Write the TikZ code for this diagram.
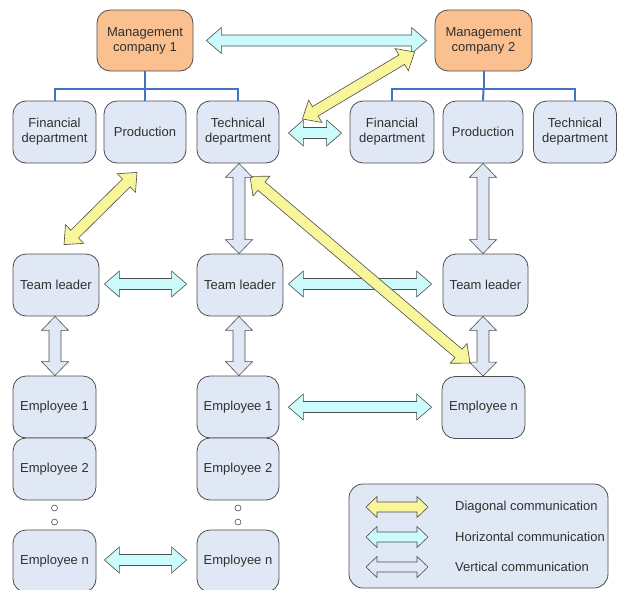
\documentclass[tikz,border=0pt]{standalone}
\usepackage{fontspec}
\setmainfont{Liberation Sans}
\usetikzlibrary{calc}
\definecolor{boxfill}{HTML}{E1E8F5}
\definecolor{mgmtfill}{HTML}{FAC08F}
\definecolor{cyanfill}{HTML}{CCFBFB}
\definecolor{yelfill}{HTML}{F9F59A}
\definecolor{edgec}{HTML}{4D4D4D}
\definecolor{treec}{HTML}{4472C4}
\definecolor{txtc}{HTML}{303030}
\begin{document}
\begin{tikzpicture}[x=1pt,y=-1pt,
  box/.style={draw=edgec, line width=0.8pt, fill=boxfill, rounded corners=13pt,
    minimum height=62pt, inner sep=2pt, align=center, text=txtc,
    font=\fontsize{13}{15}\selectfont},
  mgmt/.style={box, fill=mgmtfill, minimum height=61pt},
  tree/.style={draw=treec, line width=2pt},
  arrdims/.code n args={3}{\def\arrW{#1}\def\arrH{#2}\def\arrL{#3}},
  blk/.style={draw=edgec, line width=0.6pt, line join=miter, arrdims={5.5pt}{13pt}{15pt},
    to path={coordinate (bS) (\tikztotarget) coordinate (bE)
      (bS) -- ($(bS)!\arrL!(bE)!\arrH!90:(bE)$)
           -- ($(bS)!\arrL!(bE)!\arrW!90:(bE)$)
           -- ($(bE)!\arrL!(bS)!\arrW!-90:(bS)$)
           -- ($(bE)!\arrL!(bS)!\arrH!-90:(bS)$)
           -- (bE)
           -- ($(bE)!\arrL!(bS)!\arrH!90:(bS)$)
           -- ($(bE)!\arrL!(bS)!\arrW!90:(bS)$)
           -- ($(bS)!\arrL!(bE)!\arrW!-90:(bE)$)
           -- ($(bS)!\arrL!(bE)!\arrH!-90:(bE)$)
           -- cycle}},
  harr/.style={blk, fill=cyanfill},
  varr/.style={blk, fill=boxfill, arrdims={6pt}{13.5pt}{14pt}},
  darr/.style={blk, fill=yelfill},
  legtext/.style={anchor=west, inner sep=0pt, text=txtc, font=\fontsize{13}{15}\selectfont},
  dot/.style={circle, draw=edgec, line width=0.6pt, fill=white, inner sep=0pt, minimum size=6pt}
]
\useasboundingbox (0,0) rectangle (620,589);

% management
\node[mgmt, minimum width=96pt] (mc1) at (145,40.5) {Management\\company 1};
\node[mgmt, minimum width=97pt] (mc2) at (483.5,40.5) {Management\\company 2};

% departments
\node[box, minimum width=83pt] (fin1) at (54.5,132) {Financial\\department};
\node[box, minimum width=82pt] (prod1) at (145,132) {Production};
\node[box, minimum width=82pt] (tech1) at (238,132) {Technical\\department};
\node[box, minimum width=84pt] (fin2) at (392,132) {Financial\\department};
\node[box, minimum width=80pt] (prod2) at (483,132) {Production};
\node[box, minimum width=83pt] (tech2) at (575,132) {Technical\\department};

% team leaders
\node[box, minimum width=86pt] (tl1) at (56,285) {Team leader};
\node[box, minimum width=86pt] (tl2) at (240,285) {Team leader};
\node[box, minimum width=85pt] (tl3) at (485.5,285) {Team leader};

% employees
\node[box, minimum width=83pt] (e11) at (54.5,407) {Employee 1};
\node[box, minimum width=83pt] (e12) at (54.5,469) {Employee 2};
\node[box, minimum width=83pt] (e1n) at (54.5,561) {Employee n};
\node[box, minimum width=82pt] (e21) at (238,407) {Employee 1};
\node[box, minimum width=82pt] (e22) at (238,469) {Employee 2};
\node[box, minimum width=82pt] (e2n) at (238,561) {Employee n};
\node[box, minimum width=83pt] (e3n) at (483.5,407.5) {Employee n};

% dots
\node[dot] (d1a) at (54.5,508) {};
\node[dot] (d1b) at (54.5,522) {};
\node[dot] (d2a) at (238,508) {};
\node[dot] (d2b) at (238,522) {};

% tree lines
\draw[tree] (mc1.south) -- ($(mc1.south)+(0,18)$) coordinate (j1);
\draw[tree] (fin1.north) |- (j1) -| (tech1.north);
\draw[tree] (j1) -- (prod1.north);
\draw[tree] (mc2.south) -- ($(mc2.south)+(0,18)$) coordinate (j2);
\draw[tree] (fin2.north) |- (j2) -| (tech2.north);
\draw[tree] (j2) -- (prod2.north);

% horizontal communication
\draw[harr] ($(mc1.east)+(13,0)$) to ($(mc2.west)+(-8,0)$);
\draw[harr] ($(tech1.east)+(9,1)$) to ($(fin2.west)+(-8,1)$);
\draw[harr] ($(tl1.east)+(5,-1)$) to ($(tl2.west)+(-10,-1)$);
\draw[harr] ($(tl2.east)+(5,-1)$) to ($(tl3.west)+(-11,-1)$);
\draw[harr] ($(e21.east)+(9,0)$) to ($(e3n.west)+(-10,-0.5)$);
\draw[harr] ($(e1n.east)+(8,-1)$) to ($(e2n.west)+(-10,-1)$);

% diagonal communication
\draw[darr] ($(prod1.south)+(-8,9)$) to ($(tl1.north)+(8,-9)$);
\draw[darr] ($(tech1.east)+(23,-13)$) to ($(mc2.west)+(-20,11.5)$);
\draw[darr] ($(tech1.south)+(12,13)$) to ($(e3n.north)+(-13.5,-13)$);

% vertical communication
\draw[varr] ($(tech1.south)+(1,0)$) to ($(tech1.south |- tl2.north)+(1,0)$);
\draw[varr] ($(tl2.south)+(-1,0)$) to ($(tl2.south |- e21.north)+(-1,0)$);
\draw[varr] ($(tl1.south)+(-1,0)$) to ($(tl1.south |- e11.north)+(-1,0)$);
\draw[varr] (prod2.south) to (prod2.south |- tl3.north);
\draw[varr] ($(tl3.south)+(-2.5,0)$) to ($(tl3.south |- e3n.north)+(-2.5,0)$);

% legend
\node[draw=edgec, line width=0.8pt, fill=boxfill, rounded corners=14pt,
  minimum width=259pt, minimum height=104pt, inner sep=0pt] (leg) at (478.5,536) {};
\coordinate (ly1) at (366,507); \coordinate (ly2) at (428,507);
\coordinate (lc1) at (366,537); \coordinate (lc2) at (428,537);
\coordinate (lv1) at (366,567); \coordinate (lv2) at (428,567);
\draw[darr, arrdims={5pt}{10.5pt}{11pt}] (ly1) to (ly2);
\draw[harr, arrdims={5pt}{10.5pt}{11pt}] (lc1) to (lc2);
\draw[blk, fill=boxfill, arrdims={5pt}{10.5pt}{11pt}] (lv1) to (lv2);
\node[legtext] (t1) at (455,507) {Diagonal communication};
\node[legtext] (t2) at (455,537) {Horizontal communication};
\node[legtext] (t3) at (455,567) {Vertical communication};
\end{tikzpicture}
\end{document}
